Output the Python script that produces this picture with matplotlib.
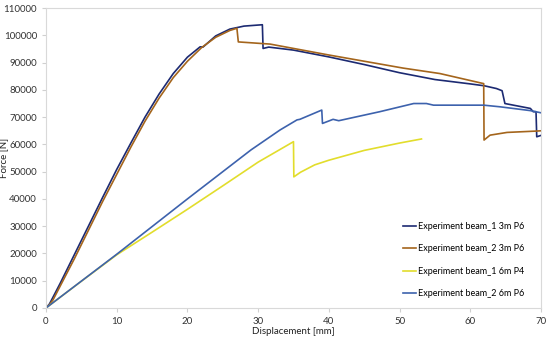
import matplotlib
matplotlib.use("Agg")
import matplotlib.pyplot as plt

plt.rcParams['font.family'] = ['Lato', 'DejaVu Sans']

# Experiment beam_1 3m P6
b1_3m_x = [0, 0.5, 1, 2, 4, 6, 8, 10, 12, 14, 16, 18, 20, 21.8, 22.2, 24, 26, 28,
           30.6, 30.7, 31.5, 35, 40, 45, 50, 55, 60, 62, 63.7, 64.5, 64.9, 68.5,
           68.9, 69.3, 69.4, 70]
b1_3m_y = [0, 1500, 4000, 9000, 19500, 30000, 40500, 50800, 60500, 70000, 78500,
           86000, 92000, 95800, 95700, 99800, 102300, 103400, 103900, 95200, 95700,
           94600, 92100, 89300, 86300, 83800, 82200, 81500, 80500, 79700, 75000,
           73200, 72000, 72000, 62800, 63300]

# Experiment beam_2 3m P6
b2_3m_x = [0, 0.5, 1, 2, 4, 6, 8, 10, 12, 14, 16, 18, 20, 22, 24, 26, 27, 27.2,
           31.7, 40, 50.5, 55.7, 61.9, 61.95, 62.8, 65.2, 69.4, 70]
b2_3m_y = [0, 1200, 3000, 8000, 18000, 28500, 39000, 49000, 59000, 68500, 77000,
           84500, 90500, 95500, 99300, 101800, 102600, 97600, 96800, 92800, 88000,
           86000, 82300, 61600, 63400, 64400, 64900, 65000]

# Experiment beam_1 6m P4
b1_6m_x = [0, 5, 10, 15, 20, 25, 30, 35, 35.05, 36, 38, 40, 45, 50, 53.1]
b1_6m_y = [0, 9800, 19500, 27800, 36200, 44800, 53500, 61000, 48100, 49800,
           52500, 54200, 57800, 60500, 62000]

# Experiment beam_2 6m P6
b2_6m_x = [0, 10, 20, 29, 33.1, 35.5, 35.9, 39, 39.1, 40.6, 41.4, 47.2, 52, 53.8,
           54.8, 61.9, 64.2, 68.5, 70]
b2_6m_y = [0, 19700, 40000, 58000, 65300, 69000, 69200, 72600, 67700, 69200,
           68700, 72000, 75000, 75000, 74400, 74400, 73800, 72400, 71600]

labels = ['Experiment beam_1 3m P6', 'Experiment beam_2 3m P6',
          'Experiment beam_1 6m P4', 'Experiment beam_2 6m P6']
colors = ['#1c2a72', '#a4651c', '#e2dd2c', '#3d62ad']

fig = plt.figure(figsize=(5.5, 3.38), dpi=100)
ax = fig.add_axes([0.0836, 0.0888, 0.9, 0.8872])

series = [(b1_3m_x, b1_3m_y), (b2_3m_x, b2_3m_y), (b1_6m_x, b1_6m_y), (b2_6m_x, b2_6m_y)]
for (xs, ys), lab, c in zip(series, labels, colors):
    ax.plot(xs, ys, color=c, lw=1.2, label=lab)

ax.set_xlim(0, 70)
ax.set_ylim(0, 110000)
ax.set_xticks(range(0, 71, 10))
ax.set_yticks(range(0, 110001, 10000))
ax.tick_params(labelsize=7, colors='#d0d0d0', labelcolor='#333333', length=3, width=0.8)
for s in ax.spines.values():
    s.set_color('#d9d9d9')
    s.set_linewidth(0.8)

ax.set_xlabel('Displacement [mm]', fontsize=7, color='#222222', labelpad=1)
ax.set_ylabel('Force [N]', fontsize=7, color='#222222')
ax.yaxis.set_label_coords(-0.077, 0.5)

ax.legend(loc='upper left', bbox_to_anchor=(0.733, 0.344), bbox_transform=fig.transFigure,
          frameon=False, fontsize=6.5, borderpad=0, borderaxespad=0,
          handlelength=1.4, handletextpad=0.2, labelspacing=1.5)

fig.savefig('out.png', dpi=100)
